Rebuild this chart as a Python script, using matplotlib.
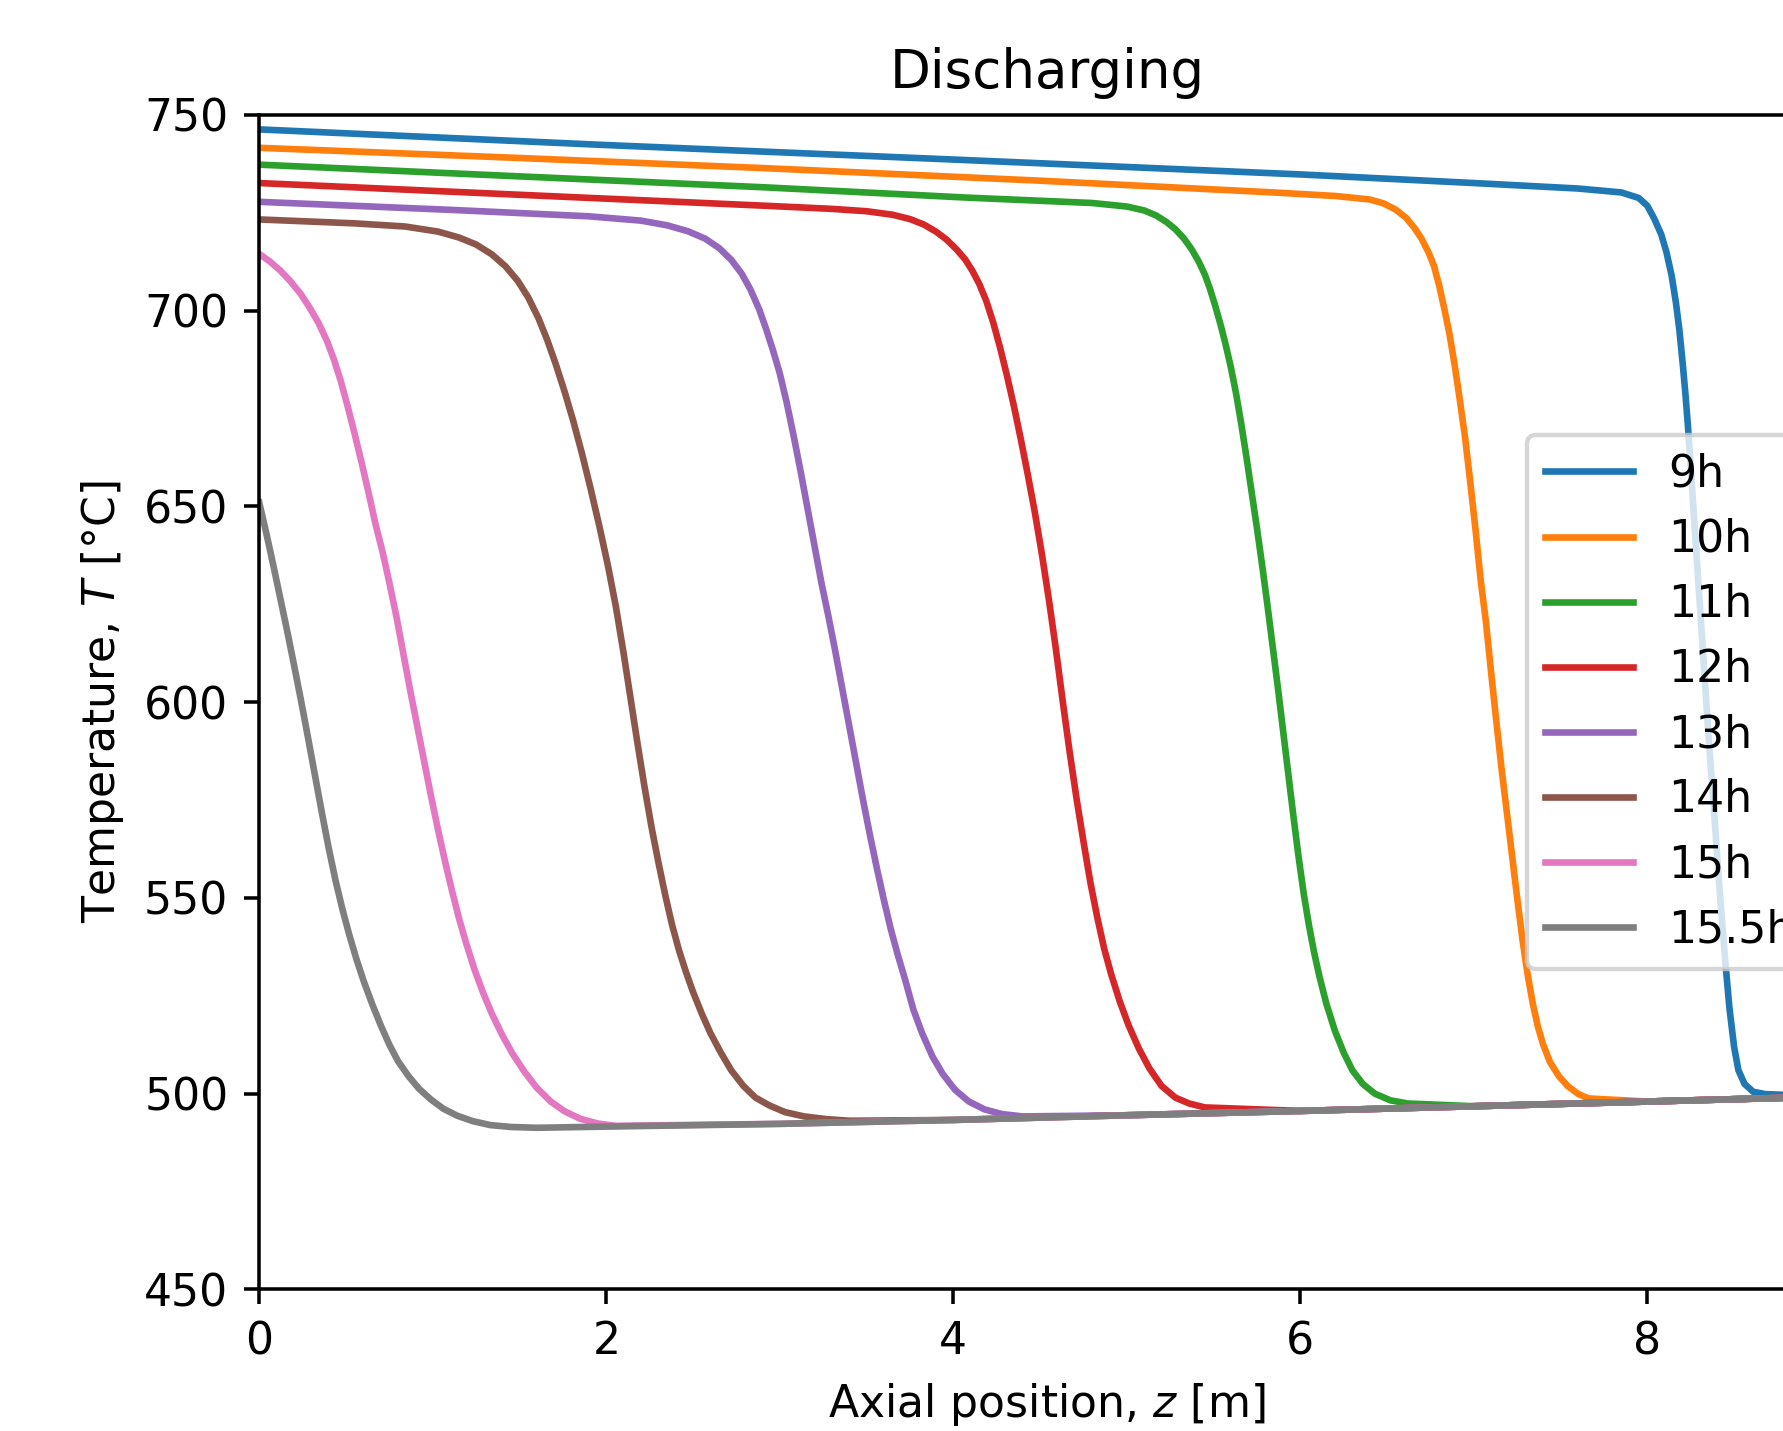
import numpy as np
import matplotlib
matplotlib.use("Agg")
import matplotlib.pyplot as plt

# values (z in m, T in degC)
labels = ["9h", "10h", "11h", "12h", "13h", "14h", "15h", "15.5h"]

# shared low-temperature tail that every profile runs into
z_base = [1.5, 2.0, 3.0, 4.0, 5.0, 6.0, 7.0, 8.0, 9.08]
T_base = [491.4, 491.6, 492.3, 493.3, 494.5, 495.6, 496.8, 498.0, 499.3]

z_9h = [0.0, 2.0, 4.0, 6.0, 7.0, 7.6, 7.85, 7.95, 8.0, 8.04, 8.08, 8.11, 8.14, 8.165,
        8.185, 8.205, 8.22, 8.235, 8.265, 8.295, 8.325, 8.355, 8.388, 8.42, 8.447,
        8.473, 8.50, 8.525, 8.56, 8.61, 8.68, 8.80, 9.08]
T_9h = [746.3, 742.3, 738.6, 734.8, 732.6, 731.2, 730.2, 728.8, 726.8, 723.5, 719.5,
        715.0, 709.0, 702.0, 695.0, 686.0, 678.5, 670.0, 650.0, 630.0, 610.0, 590.0,
        570.0, 550.0, 535.0, 522.0, 512.0, 506.0, 502.5, 500.5, 499.9, 499.7, 499.8]

z_10h = [0.0, 1.5, 2.915, 4.5, 5.843, 6.2, 6.4, 6.48, 6.55, 6.61, 6.66, 6.70, 6.74, 6.77,
         6.80, 6.83, 6.86, 6.89, 6.92, 6.95, 6.98, 7.01, 7.04, 7.07, 7.10, 7.13, 7.16,
         7.19, 7.22, 7.25, 7.28, 7.31, 7.34, 7.37, 7.40, 7.44, 7.49, 7.54, 7.60, 7.66]
T_10h = [741.6, 739.0, 736.4, 733.2, 730.2, 729.3, 728.4, 727.4, 725.8, 723.7, 721.0,
         718.3, 714.8, 711.5, 706.5, 700.5, 694.0, 686.0, 677.0, 667.5, 656.0, 644.0,
         631.0, 620.5, 607.5, 595.0, 583.0, 572.0, 561.0, 550.0, 539.5, 530.5, 523.0,
         517.0, 512.5, 508.0, 504.5, 502.0, 500.0, 498.8]

z_11h = [0.0, 1.5, 2.915, 4.068, 4.8, 5.0, 5.1, 5.17, 5.23, 5.28, 5.33, 5.375, 5.415,
         5.45, 5.48, 5.51, 5.54, 5.57, 5.60, 5.63, 5.66, 5.69, 5.72, 5.75, 5.78, 5.81,
         5.84, 5.87, 5.90, 5.93, 5.96, 5.99, 6.02, 6.05, 6.08, 6.11, 6.15, 6.20, 6.25,
         6.30, 6.36, 6.43, 6.52, 6.62]
T_11h = [737.3, 734.3, 731.5, 728.9, 727.5, 726.6, 725.6, 724.3, 722.6, 720.8, 718.4,
         715.6, 712.5, 709.2, 705.5, 701.2, 696.5, 691.3, 685.5, 678.8, 671.0, 662.5,
         653.5, 644.5, 635.0, 625.0, 614.5, 604.0, 593.0, 582.0, 571.0, 560.5, 551.0,
         543.0, 536.0, 530.0, 523.0, 516.0, 510.5, 506.0, 502.5, 500.0, 498.3, 497.5]

z_12h = [0.0, 1.5, 2.915, 3.3, 3.5, 3.65, 3.75, 3.83, 3.90, 3.96, 4.02, 4.07, 4.11, 4.15,
         4.19, 4.23, 4.27, 4.31, 4.35, 4.39, 4.43, 4.47, 4.51, 4.55, 4.59, 4.63, 4.67,
         4.71, 4.75, 4.79, 4.83, 4.87, 4.91, 4.96, 5.01, 5.07, 5.13, 5.20, 5.28, 5.36, 5.45]
T_12h = [732.6, 729.6, 726.8, 726.0, 725.4, 724.5, 723.4, 722.0, 720.2, 718.2, 715.6,
         713.0, 710.2, 706.8, 702.5, 697.0, 690.5, 683.3, 675.5, 667.0, 658.0, 648.5,
         638.0, 626.5, 614.0, 600.5, 587.5, 575.5, 564.5, 554.0, 545.0, 537.0, 530.5,
         523.5, 517.5, 511.5, 506.5, 502.0, 499.0, 497.5, 496.5]

z_13h = [0.0, 1.128, 1.9, 2.2, 2.35, 2.47, 2.57, 2.65, 2.72, 2.78, 2.83, 2.88, 2.92, 2.96,
         3.00, 3.04, 3.08, 3.12, 3.16, 3.20, 3.24, 3.28, 3.32, 3.36, 3.40, 3.44, 3.48,
         3.52, 3.56, 3.60, 3.64, 3.68, 3.72, 3.77, 3.82, 3.88, 3.94, 4.01, 4.09, 4.18,
         4.28, 4.40]
T_13h = [727.8, 725.7, 724.1, 723.0, 721.8, 720.3, 718.4, 716.0, 713.0, 709.5, 705.5,
         700.5, 695.5, 690.0, 684.0, 676.5, 668.0, 659.0, 649.5, 640.0, 630.5, 622.0,
         613.0, 603.5, 594.0, 584.5, 575.0, 566.0, 557.5, 549.5, 542.0, 535.5, 529.5,
         521.5, 515.5, 509.5, 505.0, 501.0, 498.0, 496.0, 494.8, 494.2]

z_14h = [0.0, 0.55, 0.84, 1.03, 1.15, 1.25, 1.34, 1.42, 1.49, 1.55, 1.61, 1.66, 1.71,
         1.76, 1.81, 1.86, 1.91, 1.96, 2.01, 2.055, 2.10, 2.14, 2.18, 2.22, 2.26, 2.30,
         2.34, 2.38, 2.42, 2.46, 2.50, 2.55, 2.60, 2.66, 2.72, 2.79, 2.86, 2.94, 3.03,
         3.14, 3.27, 3.40]
T_14h = [723.3, 722.3, 721.5, 720.2, 718.7, 716.9, 714.4, 711.3, 707.6, 703.4, 698.0,
         692.5, 686.2, 679.3, 671.8, 663.5, 654.5, 645.0, 634.8, 624.5, 612.5, 601.0,
         589.5, 578.5, 568.3, 559.2, 550.7, 543.0, 536.5, 531.0, 526.0, 520.5, 515.5,
         510.5, 506.0, 502.0, 499.0, 497.0, 495.3, 494.2, 493.5, 493.1]

z_15h = [0.0, 0.06, 0.12, 0.18, 0.24, 0.29, 0.34, 0.39, 0.43, 0.47, 0.51, 0.55, 0.59,
         0.63, 0.67, 0.71, 0.75, 0.79, 0.83, 0.87, 0.91, 0.95, 0.99, 1.03, 1.07, 1.11,
         1.15, 1.19, 1.24, 1.29, 1.34, 1.40, 1.46, 1.53, 1.60, 1.68, 1.76, 1.85, 1.95, 2.05]
T_15h = [714.5, 712.6, 710.3, 707.5, 704.2, 700.8, 697.0, 692.3, 687.6, 682.0, 675.5,
         668.5, 661.2, 653.5, 645.5, 638.5, 630.5, 622.0, 612.5, 603.0, 594.0, 585.0,
         576.0, 567.5, 559.5, 552.0, 545.0, 538.8, 531.8, 525.8, 520.5, 515.0, 510.2,
         505.5, 501.5, 498.0, 495.5, 493.6, 492.4, 491.8]

z_155h = [0.0, 0.04, 0.08, 0.12, 0.16, 0.20, 0.24, 0.28, 0.32, 0.36, 0.40, 0.44, 0.48,
          0.52, 0.56, 0.60, 0.65, 0.70, 0.75, 0.80, 0.86, 0.92, 0.99, 1.06, 1.14, 1.23,
          1.33, 1.45, 1.60]
T_155h = [651.0, 643.3, 635.2, 626.8, 618.4, 609.6, 600.6, 591.2, 581.6, 572.0, 562.8,
          554.4, 547.0, 540.4, 534.4, 529.0, 523.0, 517.5, 512.5, 508.3, 504.5, 501.3,
          498.5, 496.2, 494.4, 493.0, 492.0, 491.5, 491.3]

curves = [(z_9h, T_9h), (z_10h, T_10h), (z_11h, T_11h), (z_12h, T_12h),
          (z_13h, T_13h), (z_14h, T_14h), (z_15h, T_15h), (z_155h, T_155h)]

dpi = 318
fig = plt.figure(figsize=(1783 / dpi, 1431 / dpi), dpi=dpi)
ax = fig.add_axes([0.1454, 0.0989, 0.8836, 0.8208])

zb = np.array(z_base)
Tb = np.array(T_base)
for (z, T), lab in zip(curves, labels):
    keep = zb > z[-1] + 0.05
    zz = np.concatenate([z, zb[keep]])
    TT = np.concatenate([T, Tb[keep]])
    ax.plot(zz, TT, label=lab)

ax.set_xlim(0, 9.08)
ax.set_ylim(450, 750)
ax.set_xlabel('Axial position, $z$ [m]')
ax.set_ylabel('Temperature, $T$ [°C]')
ax.set_title('Discharging')
ax.legend(loc='center right')

fig.savefig("out.png", dpi=dpi)
